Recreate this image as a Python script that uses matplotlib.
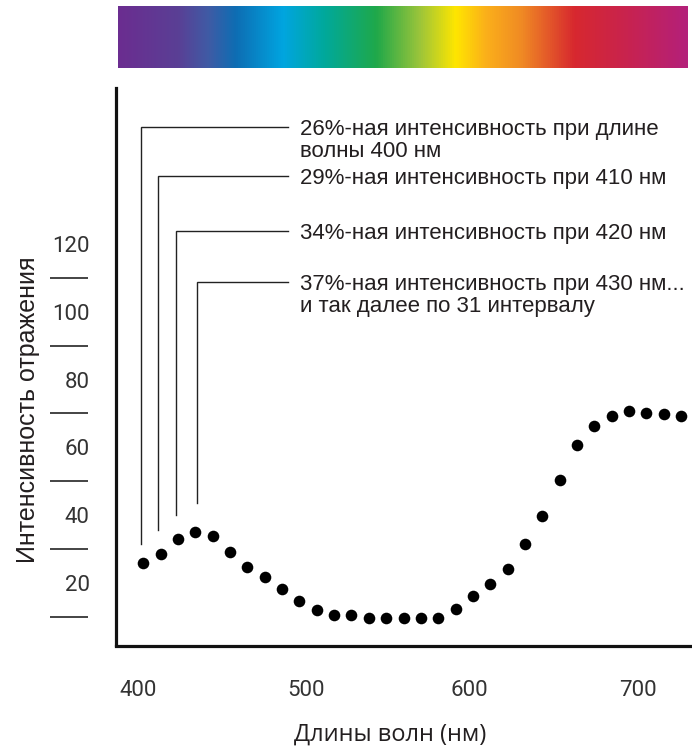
import numpy as np
import matplotlib
matplotlib.use("Agg")
import matplotlib.pyplot as plt
from matplotlib.colors import LinearSegmentedColormap
from matplotlib.transforms import offset_copy

# ---------------- data ----------------
wavelengths = list(range(400, 711, 10))
reflectance = [26.0, 28.6, 33.1, 35.0, 33.9, 29.2, 24.6, 21.9, 18.1, 14.6,
               12.0, 10.5, 10.5, 9.8, 9.8, 9.8, 9.8, 9.8, 12.2, 16.2,
               19.7, 24.1, 31.4, 39.9, 50.4, 60.7, 66.4, 69.4, 70.7, 70.2,
               69.9, 69.3]

y_tick_values = [20, 40, 60, 80, 100, 120]
y_tick_labels = ["20", "40", "60", "80", "100", "120"]
y_divider_values = [10, 30, 50, 70, 90, 110]

x_tick_labels = ["400", "500", "600", "700"]
x_tick_positions = [397, 494, 588, 685]

callout_wavelengths = [400, 410, 420, 430]
callout_texts = [
    "26%-ная интенсивность при длине\nволны 400 нм",
    "29%-ная интенсивность при 410 нм",
    "34%-ная интенсивность при 420 нм",
    "37%-ная интенсивность при 430 нм...\nи так далее по 31 интервалу",
]

spectrum_colors = ["#6B2D90", "#5A3F95", "#3F5BA5", "#0E6DB3", "#00A5E0",
                   "#00A99D", "#1FA84A", "#9CC53A", "#FFE600", "#FBB01A",
                   "#F08A24", "#D7282F", "#C8234F", "#B4207A"]
spectrum_stops = [0.0, 0.104, 0.158, 0.205, 0.289, 0.360, 0.453, 0.530,
                  0.593, 0.646, 0.709, 0.802, 0.895, 1.0]

ylabel = "Интенсивность отражения"
xlabel = "Длины волн (нм)"

# ---------------- layout ----------------
W, H = 692, 748
fig = plt.figure(figsize=(W / 100, H / 100), dpi=100)

ax_left, ax_bottom, ax_right, ax_top = 116, 645.5, 690, 88
ax = fig.add_axes([ax_left / W, 1 - ax_bottom / H,
                   (ax_right - ax_left) / W, (ax_bottom - ax_top) / H])
ax.set_xlim(384.3, 715.1)
ax.set_ylim(1.56, 166.0)

ax.scatter(wavelengths, reflectance, s=70, color="black", zorder=3,
           linewidths=0)

for side in ("top", "right"):
    ax.spines[side].set_visible(False)
for side in ("left", "bottom"):
    ax.spines[side].set_linewidth(2.3)
    ax.spines[side].set_color("#111111")

tick_font = dict(family=["Liberation Sans Narrow", "Roboto"], size=16,
                 color="#333333")
ax.set_yticks(y_tick_values)
ax.set_yticklabels(y_tick_labels, fontdict=tick_font)
ax.set_xticks(x_tick_positions)
ax.set_xticklabels(x_tick_labels, fontdict=tick_font)
ax.tick_params(axis="y", length=0, pad=19)
ax.tick_params(axis="x", length=0, pad=25)

# short divider lines left of the axis
ax.hlines(y_divider_values, -0.115, -0.049, transform=ax.get_yaxis_transform(),
          color="#111111", linewidth=1.1, clip_on=False)

# callouts
callout_levels = [154.6, 140.1, 123.9, 108.9]
callout_gaps = [5.5, 7.0, 7.0, 8.5]
callout_dx = [-1.5, -1.4, -0.9, 1.2]
line_end_x = 483.4
text_x = 490.3
line_step_pt = 22.6 * 0.72
for wl, txt, lev, gap, dx in zip(callout_wavelengths, callout_texts,
                                 callout_levels, callout_gaps, callout_dx):
    yv = reflectance[wavelengths.index(wl)]
    xv = wl + dx
    ax.plot([xv, xv, line_end_x], [yv + gap, lev, lev], color="#222222",
            linewidth=1.0, clip_on=False, solid_joinstyle="miter")
    for k, part in enumerate(txt.split("\n")):
        tr = offset_copy(ax.transData, fig=fig, x=0, y=-k * line_step_pt,
                         units="points")
        ax.text(text_x, lev, part, va="center_baseline", ha="left",
                fontsize=16, family=["Liberation Sans", "DejaVu Sans"],
                color="#231F20", clip_on=False, transform=tr)

# axis labels
fig.text(28 / W, 1 - 410 / H, ylabel, rotation=90, ha="center", va="center",
         fontsize=18, family=["Liberation Sans", "DejaVu Sans"],
         color="#231F20")
fig.text(390 / W, 1 - 735 / H, xlabel, ha="center", va="center",
         fontsize=17, family=["Open Sans", "DejaVu Sans"], color="#231F20")

# spectrum bar
cmap = LinearSegmentedColormap.from_list(
    "spectrum", list(zip(spectrum_stops, spectrum_colors)))
bar_l, bar_t, bar_r, bar_b = 118, 6, 688, 68
bax = fig.add_axes([bar_l / W, 1 - bar_b / H, (bar_r - bar_l) / W,
                    (bar_b - bar_t) / H])
bax.imshow(np.linspace(0, 1, 512)[None, :], aspect="auto", cmap=cmap)
bax.axis("off")

fig.savefig("out.png", dpi=100)
